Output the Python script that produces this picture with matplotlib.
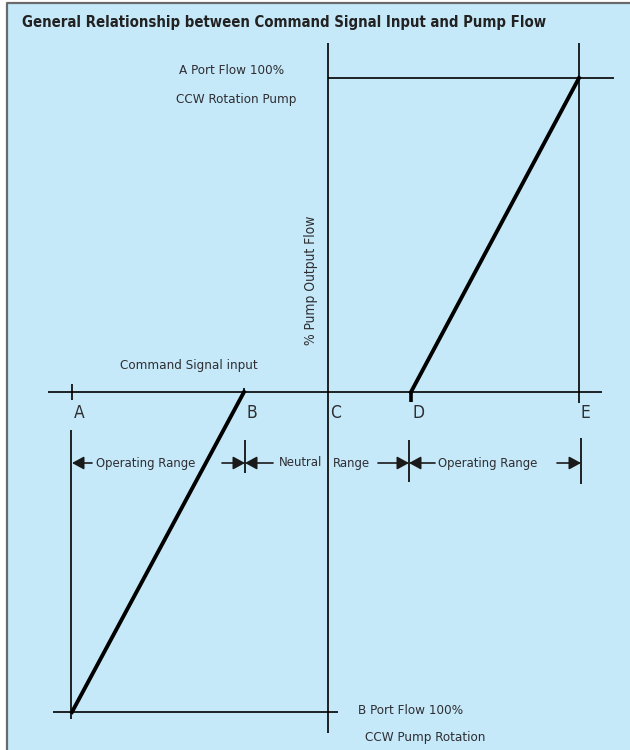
import matplotlib
matplotlib.use('Agg')
import matplotlib.pyplot as plt
from matplotlib.patches import FancyArrowPatch

# Diagram geometry (pixel-like units, y grows downward)
point_labels = ['A', 'B', 'C', 'D', 'E']
point_x = [72, 244, 328, 411, 579]
axis_y = 392          # command signal axis (0 % flow)
flow_top_y = 78       # A port flow 100 %
flow_bot_y = 712      # B port flow 100 %
range_y = 463         # row of range arrows

range_texts = ['Operating Range', 'Neutral', 'Range', 'Operating Range']
range_text_x = [96, 279, 333, 438]

bg = '#c6e9f9'
txt = '#2e2e33'
plt.rcParams['font.family'] = ['DejaVu Sans']
plt.rcParams['font.stretch'] = 'condensed'

fig = plt.figure(figsize=(6.3, 7.5), dpi=100)
fig.patch.set_facecolor('white')
ax = fig.add_axes([0, 0, 1, 1])
ax.set_xlim(0, 630)
ax.set_ylim(750, 0)
ax.axis('off')

# panel background and border
ax.fill_between([7, 630], 3, 750, color=bg, zorder=0)
ax.plot([6.5, 6.5, 630], [750, 2.5, 2.5], color='#6a6a6a', lw=1.6, zorder=1)

xa, xb, xc, xd, xe = point_x
k = dict(color='black', lw=1.2, solid_capstyle='butt')

# axes lines
ax.plot([48, 602], [axis_y, axis_y], **k)
ax.plot([xc, xc], [43, 733], **k)
ax.plot([xc, 614], [flow_top_y, flow_top_y], **k)
ax.plot([xe, xe], [43, 403], **k)
ax.plot([53, 338], [flow_bot_y, flow_bot_y], **k)
ax.plot([xa - 1, xa - 1], [430, 719], **k)

# ticks on the signal axis
ax.plot([xa, xa], [384, 400], **k)
ax.plot([xb, xb], [388, 394], **k)
ax.plot([xd, xd], [392, 402], color='black', lw=2.6, solid_capstyle='butt')

# flow curves
ax.plot([xa, xb], [flow_bot_y, axis_y], color='black', lw=2.8)
ax.plot([xd, xe], [axis_y, flow_top_y], color='black', lw=2.8)

# letters
for lab, x in zip(point_labels, point_x):
    ax.text(x + 2, 404, lab, fontsize=12.5, color=txt, ha='left', va='top')

# range markers
ax.plot([xb + 1, xb + 1], [440, 473], **k)
ax.plot([xd - 2, xd - 2], [440, 482], **k)
ax.plot([xe + 2, xe + 2], [438, 484], **k)


def arrow(x0, x1):
    ax.add_patch(FancyArrowPatch((x0, range_y), (x1, range_y),
                                 arrowstyle='-|>,head_length=0.55,head_width=0.3',
                                 mutation_scale=13, color='#1a1a1a', lw=1.2,
                                 shrinkA=0, shrinkB=0))


arrow(92, xa)
arrow(222, xb + 1)
arrow(273, xb + 1)
arrow(378, xd - 2)
arrow(435, xd - 2)
arrow(557, xe + 2)

for t, x in zip(range_texts, range_text_x):
    ax.text(x, range_y, t, fontsize=9.4, color=txt, ha='left', va='center')

# labels
ax.text(22, 22, 'General Relationship between Command Signal Input and Pump Flow',
        fontsize=10.7, fontweight='bold', color='#222222', ha='left', va='center')
ax.text(232, 70, 'A Port Flow 100%', fontsize=9.6, color=txt, ha='center', va='center')
ax.text(236, 100, 'CCW Rotation Pump', fontsize=9.6, color=txt, ha='center', va='center')
ax.text(189, 365, 'Command Signal input', fontsize=9.6, color=txt, ha='center', va='center')
ax.text(311, 280, '% Pump Output Flow', fontsize=9.9, color=txt, rotation=90,
        ha='center', va='center')
ax.text(358, 711, 'B Port Flow 100%', fontsize=9.6, color=txt, ha='left', va='center')
ax.text(365, 737, 'CCW Pump Rotation', fontsize=9.6, color=txt, ha='left', va='center')

fig.savefig('out.png', dpi=100, facecolor=fig.get_facecolor())
